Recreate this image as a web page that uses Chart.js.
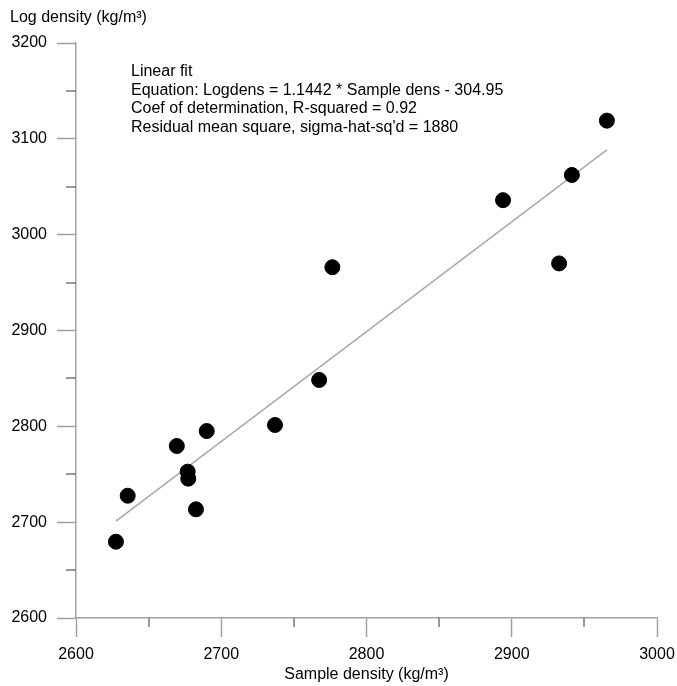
<!DOCTYPE html>
<html>
<head>
<meta charset="utf-8">
<script src="https://cdn.jsdelivr.net/npm/chart.js@4"></script>
<style>
html,body{margin:0;padding:0;background:#fff;}
#wrap{width:677px;height:686px;position:relative;}
</style>
</head>
<body>
<div id="wrap"><canvas id="c" width="677" height="686"></canvas></div>
<script>
// Data
const sampleDensity = [2627.5, 2635.6, 2669.4, 2676.9, 2677.3, 2682.6, 2690.0, 2737.0, 2767.4, 2776.5, 2894.0, 2932.6, 2941.4, 2965.5];
const logDensity    = [2679.6, 2727.6, 2779.5, 2752.7, 2745.4, 2713.4, 2795.1, 2801.4, 2848.4, 2966.0, 3036.0, 2970.0, 3062.3, 3119.0];
const fitX = [2627.5, 2965.5];
const fitY = [2701.0, 3088.5];
const xTicks = [2600, 2700, 2800, 2900, 3000];
const yTicks = [2600, 2700, 2800, 2900, 3000, 3100, 3200];
const xTitle = 'Sample density (kg/m³)';
const yTitle = 'Log density (kg/m³)';
const noteLines = [
  'Linear fit',
  'Equation: Logdens = 1.1442 * Sample dens - 304.95',
  'Coef of determination, R-squared = 0.92',
  'Residual mean square, sigma-hat-sq\'d = 1880'
];

const FONT = '"Liberation Sans", Arial, sans-serif';
const AXIS = '#a0a0a0';
const TEXT = '#000';

const points = sampleDensity.map((x, i) => ({x: x, y: logDensity[i]}));
const fitLine = fitX.map((x, i) => ({x: x, y: fitY[i]}));

const extras = {
  id: 'extras',
  afterDraw(chart) {
    const ctx = chart.ctx;
    const xs = chart.scales.x, ys = chart.scales.y;
    ctx.save();
    // minor ticks
    ctx.strokeStyle = '#777';
    ctx.lineWidth = 1.5;
    for (let v = 2650; v < 3000; v += 100) {
      const px = Math.round(xs.getPixelForValue(v));
      ctx.beginPath(); ctx.moveTo(px, ys.bottom); ctx.lineTo(px, ys.bottom + 9); ctx.stroke();
    }
    for (let v = 2650; v < 3200; v += 100) {
      const py = Math.round(ys.getPixelForValue(v));
      ctx.beginPath(); ctx.moveTo(xs.left - 10, py); ctx.lineTo(xs.left, py); ctx.stroke();
    }
    // y title
    ctx.fillStyle = TEXT;
    ctx.font = '16px ' + FONT;
    ctx.textAlign = 'left';
    ctx.textBaseline = 'alphabetic';
    ctx.fillText(yTitle, 10, 22);
    // annotation
    noteLines.forEach((t, i) => ctx.fillText(t, 131, 76 + i * 18.6));
    ctx.restore();
  }
};

new Chart(document.getElementById('c'), {
  type: 'scatter',
  data: {
    datasets: [
      {
        type: 'line',
        data: fitLine,
        borderColor: '#a8a8a8',
        borderWidth: 1.5,
        pointRadius: 0,
        showLine: true,
        fill: false,
        order: 2
      },
      {
        data: points,
        backgroundColor: '#000',
        borderColor: '#000',
        pointRadius: 7.5,
        pointHoverRadius: 7.5,
        order: 1
      }
    ]
  },
  options: {
    responsive: false,
    animation: false,
    events: [],
    layout: {padding: {top: 43, right: 0, left: 0, bottom: 0}},
    plugins: {legend: {display: false}, tooltip: {enabled: false}, title: {display: false}},
    scales: {
      x: {
        type: 'linear',
        min: 2600, max: 3000,
        afterBuildTicks(s) { s.ticks = xTicks.map(v => ({value: v})); },
        afterFit(s) { s.height = 68; s.paddingLeft = 0; s.paddingRight = 20; },
        border: {display: true, color: AXIS, width: 1.5},
        grid: {drawOnChartArea: false, drawTicks: true, tickLength: 19, color: AXIS, tickWidth: 1.5},
        ticks: {color: TEXT, font: {family: FONT, size: 16}, padding: 8, maxRotation: 0, callback: v => String(v)},
        title: {display: true, text: xTitle, color: TEXT, font: {family: FONT, size: 16}, padding: {top: 0, bottom: 2}}
      },
      y: {
        type: 'linear',
        min: 2600, max: 3200,
        afterBuildTicks(s) { s.ticks = yTicks.map(v => ({value: v})); },
        afterFit(s) { s.width = 76; },
        border: {display: true, color: AXIS, width: 1.5},
        grid: {drawOnChartArea: false, drawTicks: true, tickLength: 19, color: AXIS, tickWidth: 1.5},
        ticks: {color: TEXT, font: {family: FONT, size: 16}, padding: 10, callback: v => String(v)}
      }
    }
  },
  plugins: [extras]
});
</script>
</body>
</html>
